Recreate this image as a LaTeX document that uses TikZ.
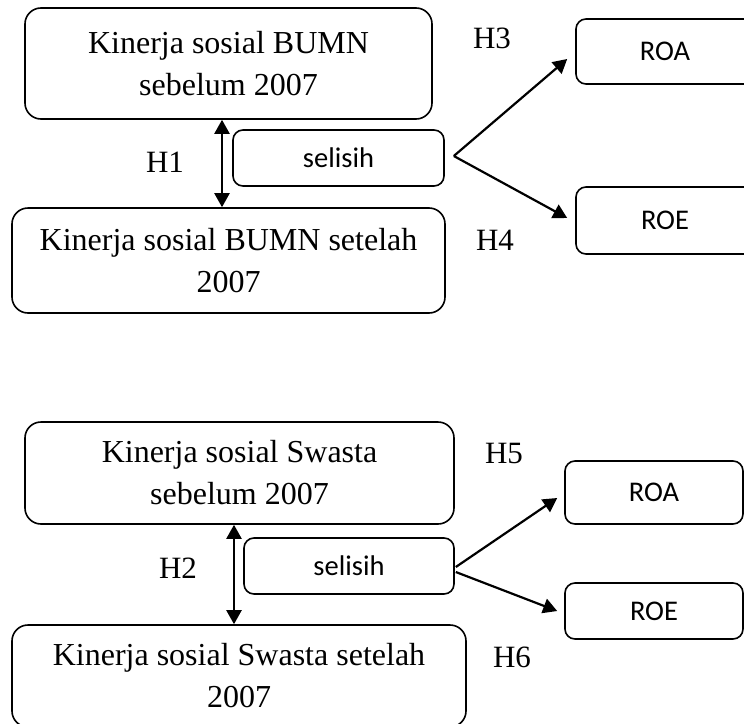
\documentclass[tikz,border=0pt]{standalone}
\usepackage{fontspec}
\setmainfont{Liberation Serif}
\newfontfamily\calib{Carlito}
\usetikzlibrary{arrows.meta}
\begin{document}
\begin{tikzpicture}[x=1pt,y=-1pt,
 bigbox/.style={draw, line width=1.6pt, rounded corners=16pt, align=center, inner sep=0pt, font=\fontsize{32}{42}\selectfont},
 smallbox/.style={draw, line width=1.6pt, rounded corners=10pt, inner sep=0pt, font=\calib\fontsize{28.5}{34}\selectfont},
 hlab/.style={inner sep=0pt, font=\fontsize{31}{36}\selectfont},
 tipa/.tip={Triangle[length=14pt,width=15pt]},
 conn/.style={line width=2.2pt, -tipa},
 dconn/.style={line width=2.2pt, tipa-tipa}]
\useasboundingbox (0,0) rectangle (744,723);
\clip (0,0) rectangle (744,723);
\fill[white] (0,0) rectangle (744,723);

% top group
\node[bigbox, minimum width=407pt, minimum height=111pt] (b1) at (228.5,63.5) {Kinerja sosial BUMN\\sebelum 2007};
\node[bigbox, minimum width=433pt, minimum height=105pt] (b2) at (228.5,260.5) {Kinerja sosial BUMN setelah\\2007};
\node[smallbox, minimum width=211pt, minimum height=56pt] (sel1) at (338.5,158) {selisih};
\node[smallbox, minimum width=178pt, minimum height=65pt] (roa1) at (665,51.5) {ROA};
\node[smallbox, minimum width=178pt, minimum height=67pt] (roe1) at (665,220.5) {ROE};

\node[hlab] (h1) at (165,162) {H1};
\node[hlab] (h3) at (492,38) {H3};
\node[hlab] (h4) at (495,240) {H4};

\draw[dconn] ([xshift=-6.5pt]b1.south) -- ([xshift=-6.5pt]b2.north);
\coordinate (f1) at ([xshift=9pt,yshift=2pt]sel1.east);
\draw[conn] (f1) -- ([xshift=-8pt,yshift=-7.5pt]roa1.west);
\draw[conn] (f1) -- ([xshift=-8pt,yshift=2.5pt]roe1.west);

% bottom group
\node[bigbox, minimum width=429pt, minimum height=102pt] (b3) at (239.5,473) {Kinerja sosial Swasta\\sebelum 2007};
\node[bigbox, minimum width=454pt, minimum height=102pt] (b4) at (239,676) {Kinerja sosial Swasta setelah\\2007};
\node[smallbox, minimum width=210pt, minimum height=56pt] (sel2) at (349,566) {selisih};
\node[smallbox, minimum width=178pt, minimum height=63pt] (roa2) at (654,492.5) {ROA};
\node[smallbox, minimum width=178pt, minimum height=56pt] (roe2) at (654,611) {ROE};

\node[hlab] (h2) at (178,568) {H2};
\node[hlab] (h5) at (504,453) {H5};
\node[hlab] (h6) at (512,657) {H6};

\draw[dconn] ([xshift=-5.5pt]b3.south) -- ([xshift=-5pt]b4.north);
\draw[conn] ([xshift=1pt,yshift=-1pt]sel2.east) -- ([xshift=-7pt,yshift=-5.5pt]roa2.west);
\draw[conn] ([xshift=1pt,yshift=-6pt]sel2.east) -- ([xshift=-7pt]roe2.west);
\end{tikzpicture}
\end{document}
